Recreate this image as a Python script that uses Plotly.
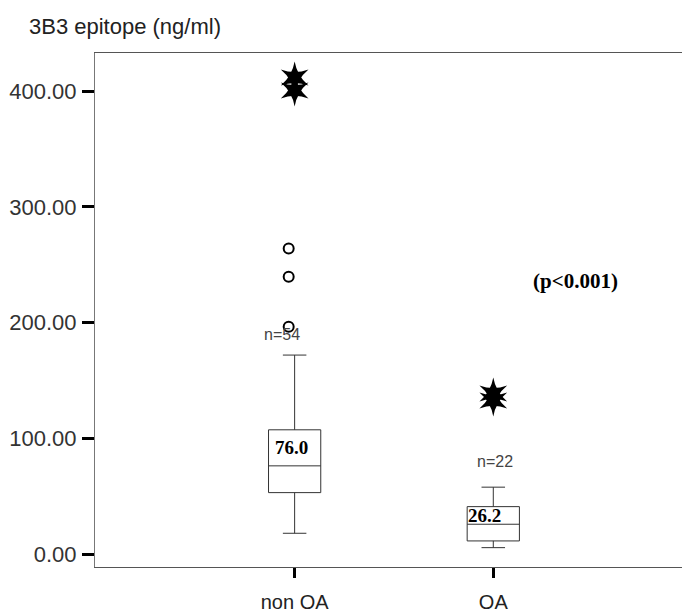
import plotly.graph_objects as go

# ---- data ----
groups = ["non OA", "OA"]
group_pos = [0, 1]
q1 = [53.4, 11.7]
median = [76.5, 26.1]
q3 = [107.6, 41.3]
lower_whisker = [18.3, 5.9]
upper_whisker = [172.1, 58.1]
median_labels = ["76.0", "26.2"]
n_labels = ["n=54", "n=22"]

outlier_x = [-0.03, -0.03, -0.03]
outlier_y = [264.0, 239.7, 196.5]
extreme_x = [0, 0, 1, 1]
extreme_y = [411.7, 400.5, 139.0, 133.0]

y_ticks = [0, 100, 200, 300, 400]
y_ticktext = ["0.00", "100.00", "200.00", "300.00", "400.00"]

fig = go.Figure()
for i in range(len(groups)):
    fig.add_trace(go.Box(
        x=[group_pos[i]],
        q1=[q1[i]], median=[median[i]], q3=[q3[i]],
        lowerfence=[lower_whisker[i]], upperfence=[upper_whisker[i]],
        width=0.263, whiskerwidth=0.45,
        boxpoints=False,
        fillcolor="white",
        line=dict(color="#333333", width=1),
        showlegend=False, hoverinfo="skip",
    ))

fig.add_trace(go.Scatter(
    x=outlier_x, y=outlier_y, mode="markers",
    marker=dict(symbol="circle-open", size=10, color="black", line=dict(width=2, color="black")),
    showlegend=False, hoverinfo="skip",
))
# extreme values: six-pointed sharp star made of two concave triangles
for sym in ["star-triangle-up", "star-triangle-down"]:
    fig.add_trace(go.Scatter(
        x=extreme_x, y=extreme_y, mode="markers",
        marker=dict(symbol=sym, size=20, color="black", line=dict(width=0)),
        showlegend=False, hoverinfo="skip",
    ))

annotations = []
# median labels
med_label_y = [92.0, 34.0]
med_label_shift = [-3, -9]
for i in range(len(groups)):
    annotations.append(dict(
        x=group_pos[i], y=med_label_y[i], text=median_labels[i], showarrow=False,
        xshift=med_label_shift[i],
        font=dict(family="Liberation Serif", size=19, color="black", weight="bold"),
    ))
n_label_y = [189.6, 80.0]
n_label_shift = [-13, 2]
for i in range(len(groups)):
    annotations.append(dict(
        x=group_pos[i], y=n_label_y[i], text=n_labels[i], showarrow=False,
        xshift=n_label_shift[i],
        font=dict(family="Liberation Sans", size=16, color="#444444"),
    ))
annotations.append(dict(
    x=1.412, y=236, text="(p<0.001)", showarrow=False,
    font=dict(family="Liberation Serif", size=21, color="black", weight="bold"),
))
annotations.append(dict(
    xref="paper", yref="paper", x=-0.115, y=1.0, yshift=27,
    xanchor="left", yanchor="middle",
    text="3B3 epitope (ng/ml)", showarrow=False,
    font=dict(family="Liberation Sans", size=22, color="#222222"),
))

fig.update_layout(
    width=682, height=616,
    margin=dict(l=95, r=0, t=53, b=49, autoexpand=False),
    paper_bgcolor="white", plot_bgcolor="white",
    font=dict(family="Liberation Sans", color="#333333"),
    annotations=annotations,
    xaxis=dict(
        range=[-1.005, 1.95], tickvals=group_pos, ticktext=groups,
        ticks="outside", ticklen=10, tickwidth=3, tickcolor="black",
        ticklabelstandoff=7, automargin=False,
        showline=True, linecolor="#555555", linewidth=1, mirror=True,
        showgrid=False, zeroline=False,
        tickfont=dict(size=20, color="#222222"),
    ),
    yaxis=dict(
        range=[-10.8, 432.8], tickvals=y_ticks, ticktext=y_ticktext,
        ticks="outside", ticklen=12, tickwidth=3, tickcolor="black",
        ticklabelstandoff=1, automargin=False,
        showline=True, linecolor="#777777", linewidth=1,
        showgrid=False, zeroline=False,
        tickfont=dict(size=22, color="#333333"),
    ),
)

fig.write_html(
    "out.html",
    config={"displayModeBar": False},
    post_script="document.body.style.margin='0';document.body.style.overflow='hidden';",
)
